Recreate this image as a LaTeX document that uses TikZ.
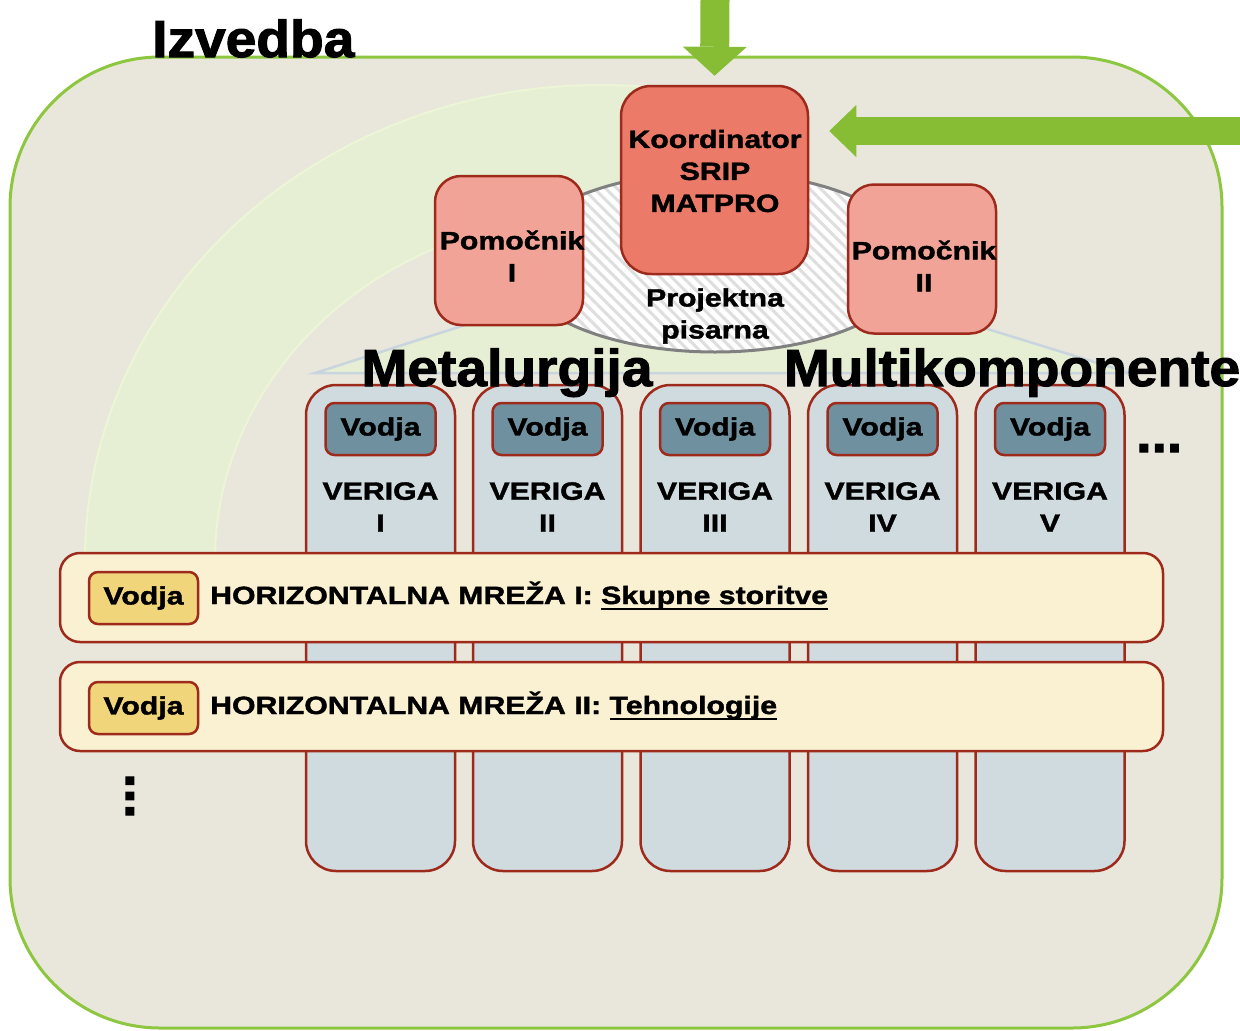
\documentclass[tikz,border=0pt]{standalone}
\usepackage{fontspec}
\newfontfamily\sfb[FakeStretch=1.21,FakeBold=1.6]{Liberation Sans Bold}
\newfontfamily\sfbig[FakeStretch=1.06,FakeBold=2]{Liberation Sans Bold}
\usetikzlibrary{shapes.geometric,patterns.meta,arrows.meta}
\definecolor{outerfill}{RGB}{233,231,220}
\definecolor{grn}{RGB}{141,198,63}
\definecolor{arrgrn}{RGB}{135,189,52}
\definecolor{bandfill}{RGB}{230,239,211}
\definecolor{bandedge}{RGB}{236,246,214}
\definecolor{triedge}{RGB}{201,213,222}
\definecolor{brd}{RGB}{158,42,28}
\definecolor{koordfill}{RGB}{236,122,105}
\definecolor{pomfill}{RGB}{242,163,152}
\definecolor{colfill}{RGB}{208,219,224}
\definecolor{vodblue}{RGB}{111,144,158}
\definecolor{barfill}{RGB}{250,240,210}
\definecolor{vodyel}{RGB}{240,213,123}
\definecolor{stripe}{RGB}{222,222,222}
\definecolor{ellbrd}{RGB}{128,128,128}
\newcommand\myul[1]{\setbox0=\hbox{#1}\rlap{\rule[-6pt]{\wd0}{2.4pt}}\box0}
\begin{document}
\begin{tikzpicture}[x=1pt,y=-1pt,
  tx/.style={font=\sfb\fontsize{25}{32}\selectfont, text=black, inner sep=0pt, align=center},
  tx1/.style={font=\sfb\fontsize{25}{32}\selectfont, text=black, inner sep=0pt},
  big/.style={font=\sfbig\fontsize{52}{60}\selectfont, text=black, inner sep=0pt},
  redbox/.style={draw=brd, line width=2.5pt, inner sep=0pt},
  colbox/.style={redbox, fill=colfill, rounded corners=30pt, minimum width=149pt, minimum height=486pt},
  vodjab/.style={redbox, tx, fill=vodblue, rounded corners=9pt, minimum width=110pt, minimum height=52pt},
  vodjay/.style={redbox, tx, fill=vodyel, rounded corners=9pt, minimum width=109pt, minimum height=52pt},
  barbox/.style={redbox, fill=barfill, rounded corners=20pt, minimum width=1103pt, minimum height=89pt},
  pombox/.style={redbox, fill=pomfill, rounded corners=26pt, minimum width=148pt, minimum height=149pt},
  bigarrow/.style={draw=arrgrn, line cap=butt}
]
\useasboundingbox (0,0) rectangle (1240,1031);

% outer frame
\node[draw=grn, line width=3pt, fill=outerfill, rounded corners=150pt,
      minimum width=1212pt, minimum height=971pt, inner sep=0pt] (izv) at (616,542.5) {};
\node[big, anchor=base west] (izvt) at (152,57) {Izvedba};

% background band and triangle
\path[fill=bandfill, draw=bandedge, line width=2pt]
  (85,560) arc[start angle=180, end angle=290, x radius=515, y radius=475]
  -- (731.7,235.7) arc[start angle=290, end angle=180, x radius=385, y radius=345] -- cycle;
\path[fill=bandfill, draw=triedge, line width=2.5pt]
  (715,245) -- (1130,373) -- (315,373) -- cycle;

% project office
\node[ellipse, minimum width=400pt, minimum height=180pt, inner sep=0pt,
      preaction={fill=white},
      pattern={Lines[angle=-45,distance=8pt,line width=3pt]}, pattern color=stripe,
      draw=ellbrd, line width=3pt] (pis) at (715,262) {};
\node[tx] (pist) at (715,316) {Projektna\\pisarna};

% assistants
\node[pombox] (pom1) at (509,250.5) {};
\node[tx] (pom1t) at (512,256) {Pomočnik\\I};
\node[pombox] (pom2) at (922,259) {};
\node[tx] (pom2t) at (924,266) {Pomočnik\\II};

% coordinator
\node[redbox, fill=koordfill, rounded corners=30pt, minimum width=187pt, minimum height=188pt] (koord) at (714.5,180) {};
\node[tx] (koordt) at (715,171) {Koordinator\\SRIP\\MATPRO};

% incoming arrows
\coordinate (topin) at (715,0);
\coordinate (rightin) at (1240,131);
\draw[bigarrow, line width=29pt, -{Triangle[length=29pt,width=64pt,line width=0pt]}, shorten >=9pt]
  (topin) -- (koord.north);
\draw[bigarrow, line width=28pt, -{Triangle[length=27pt,width=52pt,line width=0pt]}, shorten >=20pt]
  (rightin) -- (rightin -| koord.east);

% chains
\foreach \i/\x/\r in {1/380.5/I, 2/547.5/II, 3/715/III, 4/882.5/IV, 5/1050/V} {
  \node[colbox] (col\i) at (\x,628) {};
  \node[vodjab] (cv\i) at (\x,429) {Vodja};
  \node[tx] (ct\i) at (\x,507) {VERIGA\\\r};
}
\node[big, anchor=base west] (cdots) at (1136,452) {...};

% domain labels
\node[big, anchor=base] (met) at (507,386) {Metalurgija};
\node[big, anchor=base] (mul) at (1012,386) {Multikomponente};

% horizontal networks
\node[barbox] (hb1) at (611.5,597.5) {};
\node[vodjay] (hv1) at (143.5,598) {Vodja};
\node[tx1, anchor=base west] (ht1) at (210,604) {HORIZONTALNA MREŽA I: \myul{Skupne storitve}};

\node[barbox] (hb2) at (611.5,706.5) {};
\node[vodjay] (hv2) at (143.5,708) {Vodja};
\node[tx1, anchor=base west] (ht2) at (210,714) {HORIZONTALNA MREŽA II: \myul{Tehnologije}};

\node[big, anchor=base, rotate=-90] (vdots) at (126,796) {...};
\end{tikzpicture}
\end{document}
